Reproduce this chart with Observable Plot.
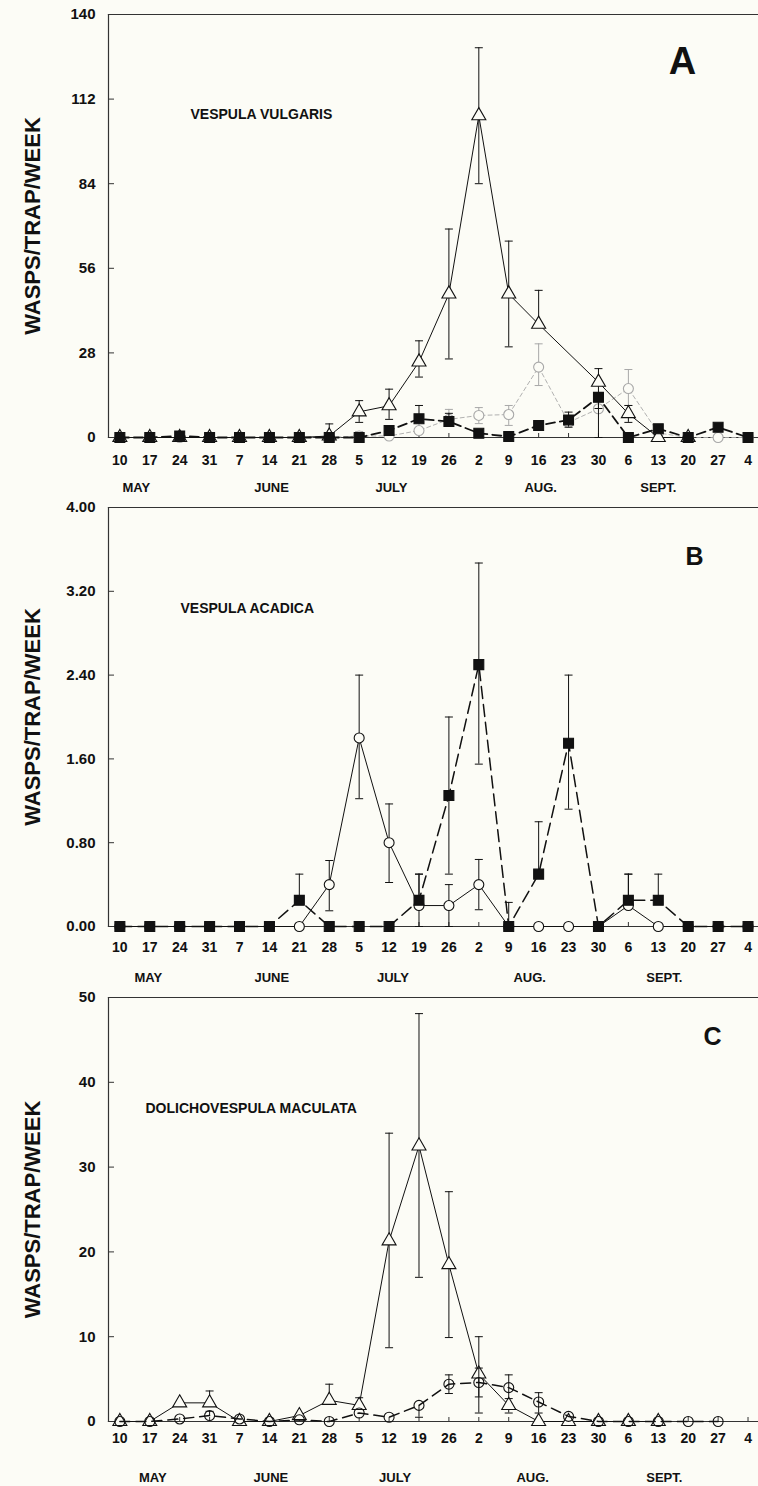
<!DOCTYPE html>
<html><head><meta charset="utf-8">
<script src="https://cdn.jsdelivr.net/npm/d3@7"></script>
<script src="https://cdn.jsdelivr.net/npm/@observablehq/plot@0.6"></script>
<style>
html,body{margin:0;padding:0;background:#fcfcf6;}
#chart svg{display:block;}
</style></head><body><div id="chart"></div>
<script>
// ---- shared categories / tick labels ----
const dates = [10,17,24,31,7,14,21,28,5,12,19,26,2,9,16,23,30,6,13,20,27,4];
const monthNames = ["MAY","JUNE","JULY","AUG.","SEPT."];
const monthPosA = [0.55,5.07,9.08,14.07,18.0];
const monthPosB = [0.95,5.08,9.13,13.7,18.2];
const monthPosC = [1.1,5.05,9.2,13.8,18.2];

// ---- Panel A: Vespula vulgaris ----
const yTicksA = [0,28,56,84,112,140];
const aTri   = [0,0,0,0,0,0,0,0.5,8.5,10.5,25,47.5,106.5,47.5,37.5,null,18.3,7.9,0,0,null,null];
const aTriHi = [null,null,null,null,null,null,null,4.5,12.2,16,32,69,129,65,48.7,null,22.8,10.6,null,null,null,null];
const aTriLo = [null,null,null,null,null,null,null,null,5,6,20,26,84,30,null,null,9.6,5,null,null,null,null];
const aCir   = [0,0,0,0,0,0,0,0,0.5,0.5,2.3,6,7.3,7.6,23.3,5,9.5,16.2,1.5,0,0,0];
const aCirHi = [null,null,null,null,null,null,null,null,2,null,5,9.3,9.9,10.6,31,null,12,22.5,null,null,1,null];
const aCirLo = [null,null,null,null,null,null,null,null,null,null,null,null,4.6,4,17.2,null,null,10.6,null,null,null,null];
const aSq    = [0,0,0.5,0,0,0,0,0,0,2.3,6.2,5.3,1.4,0.3,4,5.8,13.3,0,2.9,0,3.4,0];
const aSqHi  = [null,null,null,null,null,null,null,null,null,null,10.6,8,null,null,null,8.4,null,null,null,null,null,null];
const aSqLo  = [null,null,null,null,null,null,null,null,null,null,null,null,null,null,null,3.4,0,null,null,null,null,null];

// ---- Panel B: Vespula acadica ----
const yTicksB = [0,0.8,1.6,2.4,3.2,4.0];
const bCir   = [0,0,0,0,0,0,0,0.4,1.8,0.8,0.2,0.2,0.4,0,0,0,0,0.2,0,0,0,0];
const bCirHi = [null,null,null,null,null,null,null,0.63,2.4,1.17,0.5,0.4,0.64,null,null,null,null,0.5,null,null,null,null];
const bCirLo = [null,null,null,null,null,null,null,0.15,1.22,0.42,0,0,0.16,null,null,null,null,null,null,null,null,null];
const bSq    = [0,0,0,0,0,0,0.25,0,0,0,0.25,1.25,2.5,0,0.5,1.75,0,0.25,0.25,0,0,0];
const bSqHi  = [null,null,null,null,null,null,0.5,null,null,null,0.5,2.0,3.47,0.23,1.0,2.4,null,0.5,0.5,null,null,null];
const bSqLo  = [null,null,null,null,null,null,null,null,null,null,null,0.5,1.55,null,null,1.12,null,null,null,null,null,null];

// ---- Panel C: Dolichovespula maculata ----
const yTicksC = [0,10,20,30,40,50];
const cTri   = [0,0,2.2,2.2,0,0,0.7,2.5,1.9,21.3,32.5,18.5,5.6,1.9,0,0,0,0,0,null,null,null];
const cTriHi = [null,null,null,3.6,null,null,null,4.4,2.8,34,48.1,27.1,10,null,null,null,null,null,null,null,null,null];
const cTriLo = [null,null,null,null,null,null,null,null,null,8.7,17,9.9,1.0,1.0,null,null,null,null,null,null,null,null];
const cCir   = [0,0,0.3,0.7,0.3,0,0.2,0,1.0,0.5,1.9,4.4,4.6,4.0,2.3,0.6,0,0,0,0,0,null];
const cCirHi = [null,null,null,1.2,null,null,null,null,null,null,null,5.5,6.3,5.5,3.4,null,null,null,null,null,null,null];
const cCirLo = [null,null,null,null,null,null,null,null,null,null,0.5,3.3,2.9,2.7,1.0,null,null,null,null,null,null,null];

const BG = "#fcfcf6";
const INK = "#111";
const FONT = "'Liberation Sans', Arial, Helvetica, sans-serif";
const capSymbol = {draw(ctx, size) { const r = Math.sqrt(size / Math.PI); ctx.moveTo(-r, 0); ctx.lineTo(r, 0); }};

function rowsOf(vals, hi, lo) {
  return vals.map((v, i) => ({i, v, hi: hi[i], lo: lo[i]}));
}

function panel(cfg) {
  const marks = [
    Plot.frame({anchor: "left", stroke: "#333", strokeWidth: 1.2}),
    Plot.frame({anchor: "top", stroke: "#333", strokeWidth: 1.2}),
    Plot.frame({anchor: "bottom", stroke: "#333", strokeWidth: 1.2}),
    // y axis labels + inward ticks
    Plot.axisY({ticks: cfg.yTicks, tickFormat: cfg.yFormat, tickSize: 0, tickPadding: 13, fontSize: 15, fontWeight: "bold", label: null}),
    Plot.axisY({ticks: cfg.yTicks, tickSize: 6, text: null, dx: 6, label: null, stroke: "#333"}),
    // x axis labels + inward ticks
    Plot.axisX({ticks: d3.range(dates.length), tickFormat: i => dates[i], tickSize: 0, tickPadding: cfg.xPad, fontSize: 14, fontWeight: "bold", label: null}),
    Plot.axisX({ticks: d3.range(dates.length), tickSize: 4, text: null, dy: -4, label: null, stroke: "#333"}),
    // month labels
    Plot.text(monthNames, {x: (d, k) => cfg.monthPos[k], y: () => 0, text: d => d, dy: cfg.monthDy, fontSize: 13, fontWeight: "bold", lineAnchor: "middle", fill: INK}),
    // y title
    Plot.text(["WASPS/TRAP/WEEK"], {frameAnchor: "left", dx: -76, rotate: -90, textAnchor: "middle", lineAnchor: "middle", fontSize: 22, fontWeight: "bold", fill: INK}),
    // species
    Plot.text([cfg.species], {frameAnchor: "top-left", dx: cfg.spDx, dy: cfg.spDy, textAnchor: "start", lineAnchor: "middle", fontSize: 14, fontWeight: "bold", fill: INK, ariaLabel: "species"}),
    // panel letter
    Plot.text([cfg.letter], {frameAnchor: "top-left", dx: cfg.lDx, dy: cfg.lDy, textAnchor: "middle", lineAnchor: "middle", fontSize: cfg.lSize, fontWeight: "bold", fill: INK})
  ];
  for (const s of cfg.series) {
    const rows = rowsOf(s.vals, s.hi, s.lo);
    const err = rows.filter(r => r.v != null && (r.hi != null || r.lo != null))
      .map(r => ({i: r.i, a: r.lo != null ? r.lo : r.v, b: r.hi != null ? r.hi : r.v, hi: r.hi, lo: r.lo}));
    const pts = rows.filter(r => r.v != null);
    marks.push(
      Plot.ruleX(err, {x: "i", y1: "a", y2: "b", stroke: s.color, strokeWidth: 1}),
      Plot.dot(err.filter(r => r.hi != null), {x: "i", y: "hi", symbol: capSymbol, r: 4, stroke: s.color, strokeWidth: 1}),
      Plot.dot(err.filter(r => r.lo != null), {x: "i", y: "lo", symbol: capSymbol, r: 4, stroke: s.color, strokeWidth: 1}),
      Plot.line(pts, {x: "i", y: "v", stroke: s.color, strokeWidth: s.width, strokeDasharray: s.dash, curve: "linear"}),
      Plot.dot(pts, {x: "i", y: "v", symbol: s.symbol, r: s.r, fill: s.fill, stroke: s.color, strokeWidth: 1.1})
    );
  }
  const svg = Plot.plot({
    width: 758, height: cfg.height,
    marginLeft: 108, marginRight: 0, marginTop: 14, marginBottom: cfg.mb,
    style: {fontFamily: FONT, background: "transparent", color: INK, overflow: "visible"},
    x: {type: "linear", domain: [-0.38, 21.35], axis: null},
    y: {domain: cfg.yDomain, axis: null},
    marks
  });
  d3.select(svg).selectAll('g[aria-label="species"] text').style("letter-spacing", "1px");
  return svg;
}

const chart = document.getElementById("chart");
chart.append(panel({
  height: 493, mb: 56, yDomain: [0, 140], yTicks: yTicksA, yFormat: d3.format("d"), xPad: 18,
  monthPos: monthPosA, monthDy: 50,
  species: "VESPULA VULGARIS", spDx: 82, spDy: 100,
  letter: "A", lDx: 574, lDy: 47, lSize: 38,
  series: [
    {vals: aCir, hi: aCirHi, lo: aCirLo, symbol: "circle", r: 5, fill: BG, color: "#a8a8a8", width: 0.9, dash: "4,3"},
    {vals: aTri, hi: aTriHi, lo: aTriLo, symbol: "triangle", r: 5.2, fill: BG, color: INK, width: 1},
    {vals: aSq, hi: aSqHi, lo: aSqLo, symbol: "square", r: 5.6, fill: INK, color: INK, width: 1.8, dash: "9,5"}
  ]
}));
chart.append(panel({
  height: 490, mb: 57, yDomain: [0, 4], yTicks: yTicksB, yFormat: d3.format(".2f"), xPad: 16,
  monthPos: monthPosB, monthDy: 51,
  species: "VESPULA ACADICA", spDx: 72, spDy: 101,
  letter: "B", lDx: 586, lDy: 49.5, lSize: 25,
  series: [
    {vals: bCir, hi: bCirHi, lo: bCirLo, symbol: "circle", r: 5, fill: BG, color: INK, width: 1},
    {vals: bSq, hi: bSqHi, lo: bSqLo, symbol: "square", r: 5.6, fill: INK, color: INK, width: 1.5, dash: "12,6"}
  ]
}));
chart.append(panel({
  height: 503, mb: 65, yDomain: [0, 50], yTicks: yTicksC, yFormat: d3.format("d"), xPad: 12,
  monthPos: monthPosC, monthDy: 56,
  species: "DOLICHOVESPULA MACULATA", spDx: 37, spDy: 111,
  letter: "C", lDx: 604, lDy: 39, lSize: 25,
  series: [
    {vals: cTri, hi: cTriHi, lo: cTriLo, symbol: "triangle", r: 5.2, fill: BG, color: INK, width: 1},
    {vals: cCir, hi: cCirHi, lo: cCirLo, symbol: "circle", r: 5, fill: "none", color: INK, width: 1.5, dash: "10,6"}
  ]
}));
</script></body></html>
